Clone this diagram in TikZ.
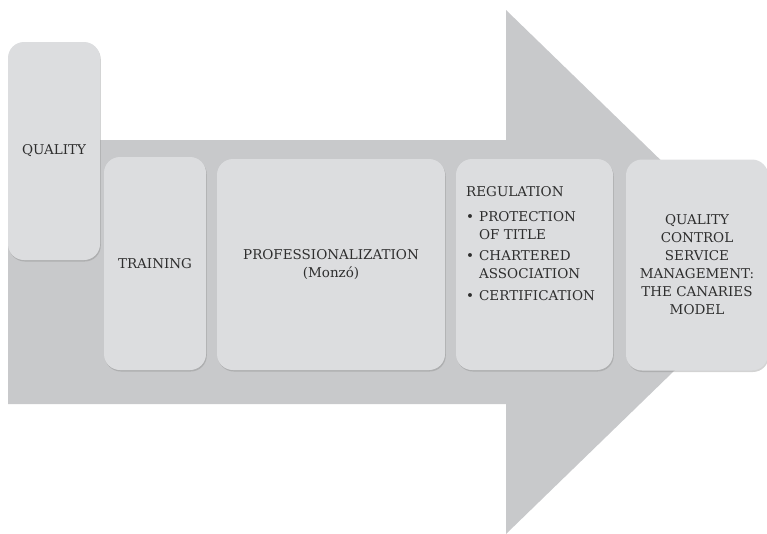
\documentclass[tikz,border=0pt]{standalone}
\usepackage{fontspec}
\setmainfont{DejaVu Serif}
\usetikzlibrary{shadows}
\definecolor{arrowgray}{HTML}{C8C9CB}
\definecolor{boxgray}{HTML}{DCDDDF}
\definecolor{textgray}{HTML}{2E2E2E}
\tikzset{
  boxfont/.style={font=\fontsize{13.5}{18}\selectfont, text=textgray},
  stepbox/.style={rectangle, rounded corners=16pt, fill=boxgray, draw=none,
    drop shadow={opacity=0.35, shadow xshift=0.8pt, shadow yshift=-1.5pt},
    inner sep=0pt, boxfont, align=center},
}
\begin{document}
\begin{tikzpicture}[x=1pt, y=-1pt]
\useasboundingbox (0,0) rectangle (767,533);
\fill[arrowgray] (8,140) -- (506,140) -- (506,10) -- (776,272) -- (506,534) -- (506,404) -- (8,404) -- cycle;
\node (quality) at (54,151) [stepbox, minimum width=92pt, minimum height=218pt]{QUALITY};
\node (training) at (155,263.5) [stepbox, minimum width=102pt, minimum height=213pt]{TRAINING};
\node (prof) at (331,264.5) [stepbox, minimum width=228pt, minimum height=211pt]{PROFESSIONALIZATION\\(Monzó)};
\node (regulation) at (534.5,264.5) [stepbox, minimum width=157pt, minimum height=211pt]{};
\node (reglist) at (466,183.5) [anchor=north west, inner sep=0pt, boxfont]{%
  \begin{tabular}{@{}l@{\hspace{5pt}}l@{}}
  \multicolumn{2}{@{}l@{}}{REGULATION}\\[7pt]
  \textbullet & PROTECTION\\
              & OF TITLE\\[3.5pt]
  \textbullet & CHARTERED\\
              & ASSOCIATION\\[3.5pt]
  \textbullet & CERTIFICATION
  \end{tabular}};
\node (canaries) at (697,265) [stepbox, minimum width=142pt, minimum height=211pt]{QUALITY\\CONTROL\\SERVICE\\MANAGEMENT:\\THE CANARIES\\MODEL};
\end{tikzpicture}
\end{document}
